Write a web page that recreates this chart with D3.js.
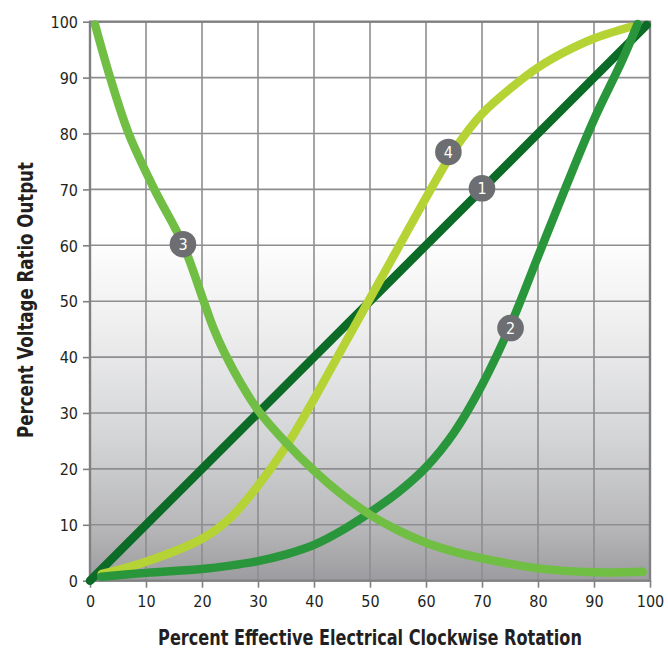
<!DOCTYPE html>
<html>
<head>
<meta charset="utf-8">
<script src="https://cdn.jsdelivr.net/npm/d3@7"></script>
<style>
  html, body { margin: 0; padding: 0; background: #ffffff; }
  svg { display: block; }
  text { font-family: "Liberation Sans Narrow", "DejaVu Sans Condensed", "Roboto Condensed", sans-serif; }
</style>
</head>
<body>
<svg id="chart" width="668" height="656"></svg>
<script>
// ---- data ----
const xTicks = [0, 10, 20, 30, 40, 50, 60, 70, 80, 90, 100];
const yTicks = [0, 10, 20, 30, 40, 50, 60, 70, 80, 90, 100];
const xTitle = "Percent Effective Electrical Clockwise Rotation";
const yTitle = "Percent Voltage Ratio Output";

// curve 1: linear
const curve1 = [[0, 0], [99.4, 99.4]];
// curve 2: slow start, steep end
const curve2 = [[2, 0.7], [10, 1.4], [20, 2.1], [25, 2.7], [30, 3.5], [35, 4.7], [40, 6.4], [45, 9], [50, 12.2], [55, 15.8], [60, 20.3], [65, 26.5], [70, 35], [75, 45.5], [80, 58], [85, 70.5], [90, 82.5], [95, 93], [97.8, 99.6]];
// curve 3: decreasing
const curve3 = [[0.9, 99.5], [3.6, 90], [6.9, 80], [11.5, 70], [16.6, 60.2], [20.3, 50], [22, 45.3], [24, 40.8], [27, 35.2], [30, 30.5], [35, 24.7], [40, 19.7], [45, 15.4], [50, 11.8], [55, 9], [60, 6.8], [65, 5.2], [70, 4.0], [80, 2.2], [90, 1.5], [98.7, 1.6]];
// curve 4: S-shaped
const curve4 = [[2.1, 1.2], [10, 3.4], [20, 7.5], [25, 11.2], [30, 17], [35, 24], [40, 32.5], [45, 41.5], [50, 50.5], [55, 59.5], [60, 68.5], [65, 77], [70, 83.5], [75, 88], [80, 91.8], [85, 94.7], [90, 97], [96.6, 99.1]];

const seriesNames = ["1", "2", "3", "4"];
const seriesColors = ["#0b6b27", "#2a963c", "#70be44", "#b5d334"];
const labelPositions = [[70, 70.2], [75.1, 45.2], [16.6, 60.2], [64, 76.7]];

// ---- layout ----
const svg = d3.select("#chart");
const margin = { left: 90, top: 21.7, right: 650, bottom: 580.7 };
const x = d3.scaleLinear().domain([0, 100]).range([margin.left, margin.right]);
const y = d3.scaleLinear().domain([0, 100]).range([margin.bottom, margin.top]);

// background gradient
const defs = svg.append("defs");
const grad = defs.append("linearGradient").attr("id", "bg").attr("x1", 0).attr("y1", 0).attr("x2", 0).attr("y2", 1);
[[0, "#ffffff"], [0.38, "#ffffff"], [0.55, "#eeeeef"], [0.75, "#d3d4d6"], [0.9, "#b8b8bb"], [1, "#9c9ca0"]].forEach(s => {
  grad.append("stop").attr("offset", s[0]).attr("stop-color", s[1]);
});

svg.append("rect")
  .attr("x", x(0)).attr("y", y(100))
  .attr("width", x(100) - x(0)).attr("height", y(0) - y(100))
  .attr("fill", "url(#bg)");

// grid
const grid = svg.append("g").attr("stroke", "#8e8e90").attr("stroke-width", 1.6);
grid.selectAll("line.v").data(xTicks.slice(1, -1)).join("line")
  .attr("x1", d => x(d)).attr("x2", d => x(d)).attr("y1", y(0)).attr("y2", y(100));
grid.selectAll("line.h").data(yTicks.slice(1, -1)).join("line")
  .attr("y1", d => y(d)).attr("y2", d => y(d)).attr("x1", x(0)).attr("x2", x(100));

// frame
svg.append("rect")
  .attr("x", x(0)).attr("y", y(100))
  .attr("width", x(100) - x(0)).attr("height", y(0) - y(100))
  .attr("fill", "none").attr("stroke", "#808082").attr("stroke-width", 2.4);

// axes
const xAxis = d3.axisBottom(x).tickValues(xTicks).tickSize(7).tickPadding(5).tickFormat(d3.format("d"));
const yAxis = d3.axisLeft(y).tickValues(yTicks).tickSize(7).tickPadding(5).tickFormat(d3.format("d"));

const gx = svg.append("g").attr("transform", `translate(0,${y(0)})`).call(xAxis);
const gy = svg.append("g").attr("transform", `translate(${x(0)},0)`).call(yAxis);
[gx, gy].forEach(g => {
  g.select(".domain").remove();
  g.selectAll(".tick line").attr("stroke", "#808082").attr("stroke-width", 1.6);
  g.selectAll(".tick text").attr("fill", "#231f20").style("font-size", "16px");
});
gx.selectAll(".tick text").attr("dy", "0.9em");
gy.selectAll(".tick text").attr("dy", "0.36em");

// curves (drawn bottom to top: 1, 4, 2, 3)
const line = d3.line().x(d => x(d[0])).y(d => y(d[1])).curve(d3.curveCatmullRom.alpha(0.5));
const allCurves = [curve1, curve2, curve3, curve4];
const gCurves = svg.append("g");
[0, 3, 1, 2].forEach(i => {
  gCurves.append("path")
    .datum(allCurves[i])
    .attr("d", line)
    .attr("fill", "none")
    .attr("stroke", seriesColors[i])
    .attr("stroke-width", 8.5)
    .attr("stroke-linecap", "round")
    .attr("stroke-linejoin", "round");
});

// labels
const gLab = svg.append("g");
labelPositions.forEach((p, i) => {
  gLab.append("circle").attr("cx", x(p[0])).attr("cy", y(p[1])).attr("r", 13.3).attr("fill", "#6d6e71");
  gLab.append("text").attr("x", x(p[0])).attr("y", y(p[1])).attr("dy", "0.36em")
    .attr("text-anchor", "middle").attr("fill", "#ffffff").style("font-size", "16px")
    .text(seriesNames[i]);
});

// titles: condensed horizontally to the reference's text width
function condense(sel, target, tx, ty, rot) {
  const w = sel.node().getComputedTextLength();
  const s = w > target ? target / w : 1;
  sel.attr("transform", `translate(${tx},${ty}) rotate(${rot}) scale(${s.toFixed(3)},1)`);
}

const xt = svg.append("text")
  .attr("text-anchor", "middle")
  .attr("fill", "#231f20")
  .style("font-size", "21px").style("font-weight", "bold")
  .text(xTitle);
condense(xt, 424, 370, 645, 0);

const yt = svg.append("text")
  .attr("text-anchor", "middle")
  .attr("fill", "#231f20")
  .style("font-size", "21px").style("font-weight", "bold")
  .text(yTitle);
condense(yt, 276, 33, 300, -90);
</script>
</body>
</html>
